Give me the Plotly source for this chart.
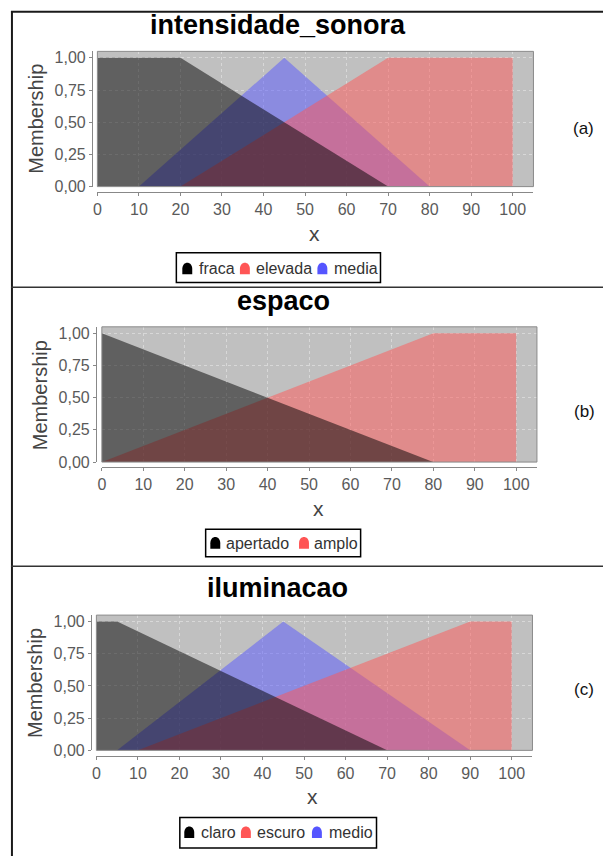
import plotly.graph_objects as go

# ---------------- data ----------------
x_tick_vals = [0, 10, 20, 30, 40, 50, 60, 70, 80, 90, 100]
y_tick_vals = [0.0, 0.25, 0.5, 0.75, 1.0]
y_tick_text = ["0,00", "0,25", "0,50", "0,75", "1,00"]

chart_titles = ["intensidade_sonora", "espaco", "iluminacao"]
panel_labels = ["(a)", "(b)", "(c)"]

intensidade_names = ["fraca", "elevada", "media"]
intensidade_fraca_x = [0, 20, 70]
intensidade_fraca_y = [1.0, 1.0, 0.0]
intensidade_elevada_x = [20, 70, 100, 100]
intensidade_elevada_y = [0.0, 1.0, 1.0, 0.0]
intensidade_media_x = [10, 45, 80]
intensidade_media_y = [0.0, 1.0, 0.0]

espaco_names = ["apertado", "amplo"]
espaco_apertado_x = [0, 80]
espaco_apertado_y = [1.0, 0.0]
espaco_amplo_x = [0, 80, 100, 100]
espaco_amplo_y = [0.0, 1.0, 1.0, 0.0]

iluminacao_names = ["claro", "escuro", "medio"]
iluminacao_claro_x = [0, 5, 70]
iluminacao_claro_y = [1.0, 1.0, 0.0]
iluminacao_escuro_x = [10, 90, 100, 100]
iluminacao_escuro_y = [0.0, 1.0, 1.0, 0.0]
iluminacao_medio_x = [5, 45, 90]
iluminacao_medio_y = [0.0, 1.0, 0.0]

# ---------------- styling / layout ----------------
W, H = 603, 865
FILL = {"black": "rgba(0,0,0,0.5)", "red": "rgba(255,85,85,0.5)", "blue": "rgba(85,85,255,0.5)"}
SOLID = {"black": "#000000", "red": "#FF5555", "blue": "#5555FF"}
FONT = "Liberation Sans, Arial, sans-serif"


def fx(p):
    return p / W


def fy(p):
    return 1 - p / H


panels = [
    dict(series=[(intensidade_names[0], intensidade_fraca_x, intensidade_fraca_y, "black"),
                 (intensidade_names[1], intensidade_elevada_x, intensidade_elevada_y, "red"),
                 (intensidade_names[2], intensidade_media_x, intensidade_media_y, "blue")],
         plot=(94, 533, 50, 187), xline=192.5, yline=88.5, title=(276, 23),
         ytitle=(32, 118.5), xtitle=(313, 234), label=(583, 128),
         box=(173.5, 379, 254, 284), items=[(179.5, 195), (237.5, 252.5), (315.5, 331)], ty=270),
    dict(series=[(espaco_names[0], espaco_apertado_x, espaco_apertado_y, "black"),
                 (espaco_names[1], espaco_amplo_x, espaco_amplo_y, "red")],
         plot=(98.5, 536.5, 329, 466), xline=471, yline=92.5, title=(281, 303),
         ytitle=(36.5, 398), xtitle=(317, 513), label=(584, 415),
         box=(203, 359, 534, 562), items=[(207.7, 222), (297, 311)], ty=548),
    dict(series=[(iluminacao_names[0], iluminacao_claro_x, iluminacao_claro_y, "black"),
                 (iluminacao_names[1], iluminacao_escuro_x, iluminacao_escuro_y, "red"),
                 (iluminacao_names[2], iluminacao_medio_x, iluminacao_medio_y, "blue")],
         plot=(93, 532, 621, 758), xline=763.5, yline=87.5, title=(275, 594),
         ytitle=(31, 690), xtitle=(311, 805), label=(584, 696),
         box=(177, 375, 826, 857), items=[(181.5, 197), (238.5, 254), (310, 326)], ty=841),
]

fig = go.Figure()
shapes = []
annotations = []
layout_axes = {}

for i, p in enumerate(panels):
    n = i + 1
    xa = "x" if n == 1 else f"x{n}"
    ya = "y" if n == 1 else f"y{n}"
    # draw in reverse order so the first series is on top (like the original)
    for name, xs, ys, col in reversed(p["series"]):
        fig.add_trace(go.Scatter(x=xs, y=ys, mode="lines", fill="tozeroy",
                                 fillcolor=FILL[col], line=dict(width=0, color=FILL[col]),
                                 name=name, showlegend=False, xaxis=xa, yaxis=ya,
                                 hoverinfo="x+y+name"))
    l, r, t, b = p["plot"]
    axis_common = dict(showline=True, linecolor="#888888", linewidth=1, ticks="outside",
                       ticklen=3, tickcolor="#888888", showgrid=True,
                       gridcolor="rgba(255,255,255,0.38)", griddash="3px,3px", gridwidth=1,
                       zeroline=False, tickfont=dict(family=FONT, size=16, color="#5a5a5a"),
                       anchor="free", fixedrange=True)
    layout_axes["xaxis" if n == 1 else f"xaxis{n}"] = dict(
        axis_common, domain=[fx(l), fx(r)], range=[0, 105], tickvals=x_tick_vals,
        position=fy(p["xline"]))
    layout_axes["yaxis" if n == 1 else f"yaxis{n}"] = dict(
        axis_common, domain=[fy(b), fy(t)], range=[0, 1.05], tickvals=y_tick_vals,
        ticktext=y_tick_text, position=fx(p["yline"]))
    # plot border
    shapes.append(dict(type="rect", xref=f"{xa} domain", yref=f"{ya} domain", x0=0, x1=1,
                       y0=0, y1=1, line=dict(color="#8a8a8a", width=1), layer="above"))
    # titles
    annotations.append(dict(text=f"<b>{chart_titles[i]}</b>", x=fx(p["title"][0]), y=fy(p["title"][1]),
                            xref="paper", yref="paper", showarrow=False, xanchor="center",
                            yanchor="middle", font=dict(family=FONT, size=27, color="black")))
    annotations.append(dict(text="Membership", x=fx(p["ytitle"][0]), y=fy(p["ytitle"][1]),
                            xref="paper", yref="paper", showarrow=False, textangle=-90,
                            xanchor="center", yanchor="middle",
                            font=dict(family=FONT, size=20, color="#444444")))
    annotations.append(dict(text="x", x=fx(p["xtitle"][0]), y=fy(p["xtitle"][1]),
                            xref="paper", yref="paper", showarrow=False, xanchor="center",
                            yanchor="middle", font=dict(family=FONT, size=21, color="#444444")))
    annotations.append(dict(text=panel_labels[i], x=fx(p["label"][0]), y=fy(p["label"][1]),
                            xref="paper", yref="paper", showarrow=False, xanchor="center",
                            yanchor="middle", font=dict(family=FONT, size=17, color="#111111")))
    # legend box
    bl, br, bt, bb = p["box"]
    shapes.append(dict(type="rect", xref="paper", yref="paper", x0=fx(bl), x1=fx(br),
                       y0=fy(bb), y1=fy(bt), line=dict(color="black", width=1.5),
                       fillcolor="white", layer="above"))
    ty = p["ty"]
    for (name, xs, ys, col), (mx, tx) in zip(p["series"], p["items"]):
        x0, x1 = mx, mx + 10
        yb, ytop = ty + 5.7, ty - 6
        ym = yb - 5.5
        yc = ym + (ytop - ym) / 0.75
        path = (f"M {fx(x0)},{fy(yb)} L {fx(x0)},{fy(ym)} "
                f"C {fx(x0)},{fy(yc)} {fx(x1)},{fy(yc)} {fx(x1)},{fy(ym)} "
                f"L {fx(x1)},{fy(yb)} Z")
        shapes.append(dict(type="path", xref="paper", yref="paper", path=path,
                           fillcolor=SOLID[col], line=dict(width=0), layer="above"))
        annotations.append(dict(text=name, x=fx(tx - 1), y=fy(ty), xref="paper", yref="paper",
                                showarrow=False, xanchor="left", yanchor="middle",
                                font=dict(family=FONT, size=16, color="#333333")))

# table borders
shapes.append(dict(type="line", xref="paper", yref="paper", x0=fx(7), x1=1, y0=fy(10), y1=fy(10),
                   line=dict(color="#1a1a1a", width=2)))
shapes.append(dict(type="line", xref="paper", yref="paper", x0=fx(8), x1=fx(8), y0=fy(9), y1=0,
                   line=dict(color="#1a1a1a", width=2)))
for sy in (289, 571.5):
    shapes.append(dict(type="line", xref="paper", yref="paper", x0=fx(7), x1=1, y0=fy(sy), y1=fy(sy),
                       line=dict(color="#333333", width=1.5)))

fig.update_layout(width=W, height=H, margin=dict(l=0, r=0, t=0, b=0),
                  paper_bgcolor="white", plot_bgcolor="#C0C0C0", showlegend=False,
                  shapes=shapes, annotations=annotations, **layout_axes)

fig.write_html("out.html", config={"displayModeBar": False},
               post_script="document.body.style.margin='0';document.body.style.padding='0';"
                           "document.documentElement.style.overflow='hidden';")
